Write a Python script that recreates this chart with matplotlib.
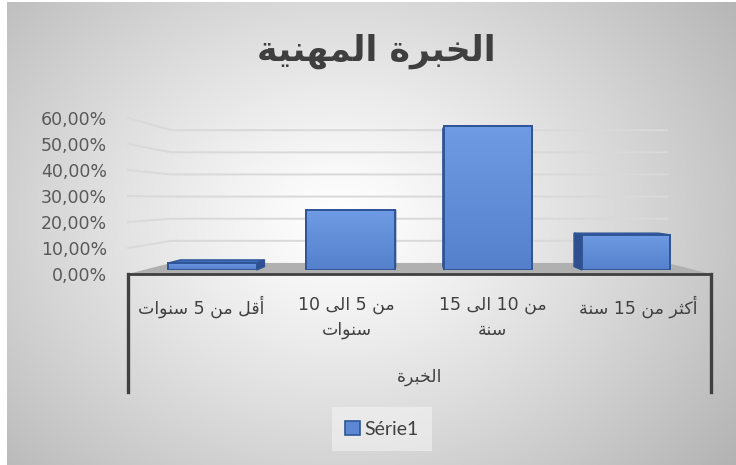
import re
import numpy as np
import matplotlib
matplotlib.use("Agg")
import matplotlib.pyplot as plt
from matplotlib.patches import Polygon, Rectangle
from matplotlib.colors import LinearSegmentedColormap

# ---------------- data ----------------
TITLE = "الخبرة المهنية"
AXIS_TITLE = "الخبرة"
SERIES_NAME = "Série1"
categories = ["أقل من 5 سنوات", "من 5 الى 10\nسنوات", "من 10 الى 15\nسنة", "أكثر من 15 سنة"]
values = [2.86, 24.29, 58.57, 14.29]
y_ticks = [0, 10, 20, 30, 40, 50, 60]
y_tick_labels = ["0,00%", "10,00%", "20,00%", "30,00%", "40,00%", "50,00%", "60,00%"]

# ---------------- arabic shaping (contextual forms + RTL order) ----------------
FORMS = {
    "\u0621": (0xFE80, None, None, None),
    "\u0622": (0xFE81, 0xFE82, None, None),
    "\u0623": (0xFE83, 0xFE84, None, None),
    "\u0624": (0xFE85, 0xFE86, None, None),
    "\u0625": (0xFE87, 0xFE88, None, None),
    "\u0626": (0xFE89, 0xFE8A, 0xFE8B, 0xFE8C),
    "\u0627": (0xFE8D, 0xFE8E, None, None),
    "\u0628": (0xFE8F, 0xFE90, 0xFE91, 0xFE92),
    "\u0629": (0xFE93, 0xFE94, None, None),
    "\u062A": (0xFE95, 0xFE96, 0xFE97, 0xFE98),
    "\u062B": (0xFE99, 0xFE9A, 0xFE9B, 0xFE9C),
    "\u062C": (0xFE9D, 0xFE9E, 0xFE9F, 0xFEA0),
    "\u062D": (0xFEA1, 0xFEA2, 0xFEA3, 0xFEA4),
    "\u062E": (0xFEA5, 0xFEA6, 0xFEA7, 0xFEA8),
    "\u062F": (0xFEA9, 0xFEAA, None, None),
    "\u0630": (0xFEAB, 0xFEAC, None, None),
    "\u0631": (0xFEAD, 0xFEAE, None, None),
    "\u0632": (0xFEAF, 0xFEB0, None, None),
    "\u0633": (0xFEB1, 0xFEB2, 0xFEB3, 0xFEB4),
    "\u0634": (0xFEB5, 0xFEB6, 0xFEB7, 0xFEB8),
    "\u0635": (0xFEB9, 0xFEBA, 0xFEBB, 0xFEBC),
    "\u0636": (0xFEBD, 0xFEBE, 0xFEBF, 0xFEC0),
    "\u0637": (0xFEC1, 0xFEC2, 0xFEC3, 0xFEC4),
    "\u0638": (0xFEC5, 0xFEC6, 0xFEC7, 0xFEC8),
    "\u0639": (0xFEC9, 0xFECA, 0xFECB, 0xFECC),
    "\u063A": (0xFECD, 0xFECE, 0xFECF, 0xFED0),
    "\u0641": (0xFED1, 0xFED2, 0xFED3, 0xFED4),
    "\u0642": (0xFED5, 0xFED6, 0xFED7, 0xFED8),
    "\u0643": (0xFED9, 0xFEDA, 0xFEDB, 0xFEDC),
    "\u0644": (0xFEDD, 0xFEDE, 0xFEDF, 0xFEE0),
    "\u0645": (0xFEE1, 0xFEE2, 0xFEE3, 0xFEE4),
    "\u0646": (0xFEE5, 0xFEE6, 0xFEE7, 0xFEE8),
    "\u0647": (0xFEE9, 0xFEEA, 0xFEEB, 0xFEEC),
    "\u0648": (0xFEED, 0xFEEE, None, None),
    "\u0649": (0xFEEF, 0xFEF0, None, None),
    "\u064A": (0xFEF1, 0xFEF2, 0xFEF3, 0xFEF4),
}
LAM_ALEF = {"\u0622": (0xFEF5, 0xFEF6), "\u0623": (0xFEF7, 0xFEF8),
            "\u0625": (0xFEF9, 0xFEFA), "\u0627": (0xFEFB, 0xFEFC)}


def _joins_next(c):
    f = FORMS.get(c)
    return f is not None and f[2] is not None


def shape(text):
    out, i, n = [], 0, len(text)
    while i < n:
        c = text[i]
        if c not in FORMS:
            out.append(c)
            i += 1
            continue
        prev = text[i - 1] if i > 0 else ""
        jp = _joins_next(prev)
        if c == "\u0644" and i + 1 < n and text[i + 1] in LAM_ALEF:
            iso, fin = LAM_ALEF[text[i + 1]]
            out.append(chr(fin if jp else iso))
            i += 2
            continue
        nxt = text[i + 1] if i + 1 < n else ""
        iso, fin, ini, med = FORMS[c]
        jn = ini is not None and nxt in FORMS
        if jp and jn:
            g = med
        elif jp:
            g = fin or iso
        elif jn:
            g = ini
        else:
            g = iso
        out.append(chr(g))
        i += 1
    return "".join(out)


def rtl(text):
    lines = []
    for line in text.split("\n"):
        s = shape(line)[::-1]
        s = re.sub(r"[0-9][0-9.,%]*", lambda m: m.group(0)[::-1], s)
        lines.append(s)
    return "\n".join(lines)


plt.rcParams["font.family"] = ["DejaVu Sans"]

# ---------------- figure & background ----------------
W, H = 736, 465
fig = plt.figure(figsize=(W / 100, H / 100), dpi=100, facecolor="white")
bg = fig.add_axes([0, 0, 1, 1], zorder=0)
yy, xx = np.mgrid[3:H, 7:W]
dist = np.hypot((xx - 340) / 460.0, (yy - 220) / 360.0)
shade = np.clip(1 - 0.27 * dist ** 1.2, 0, 1)
bg.imshow(np.dstack([shade] * 3), extent=(7, W, H, 3), interpolation="bilinear", aspect="auto")
bg.set_xlim(0, W)
bg.set_ylim(H, 0)
bg.axis("off")

# ---------------- main (bar front plane) axes ----------------
PX_L, PX_R = 143.6, 695.1
PX_0, PX_TOP = 270.0, 122.4
ax = fig.add_axes([PX_L / W, 1 - PX_0 / H, (PX_R - PX_L) / W, (PX_0 - PX_TOP) / H], zorder=1)
n = len(categories)
x_lo, x_hi = -0.5, n - 0.5
ax.set_xlim(x_lo, x_hi)
ax.set_ylim(0, y_ticks[-1])
ax.axis("off")

# perspective helpers (vanishing point in data coords)
VX = x_lo + (417 - PX_L) / (PX_R - PX_L) * n
VY = (PX_0 - 200) / (PX_0 - PX_TOP) * y_ticks[-1]
RF, RB, RBB = 1 / 0.946, 0.851 / 0.946, 0.9 / 0.946


def P(x, v, r):
    return (VX + r * (x - VX), VY + r * (v - VY))


# floor
ax.add_patch(Polygon([P(x_lo, 0, RF), P(x_hi, 0, RF), P(x_hi, 0, RB), P(x_lo, 0, RB)],
                     closed=True, fc="#b0b0b0", ec="none", zorder=1, clip_on=False))

# gridlines (side wall + back wall)
for v in y_ticks[1:]:
    pts = [P(x_lo, v, RF), P(x_lo, v, RB), P(x_hi, v, RB)]
    ax.plot([p[0] for p in pts], [p[1] for p in pts], color="#d9d9d9", lw=1.4,
            zorder=0.5, clip_on=False, solid_joinstyle="round")

# bars
xs = np.arange(n)
BW = 0.64
bars = ax.bar(xs, values, width=BW, color="#5b87d3", edgecolor="#2f5597",
              linewidth=1.2, zorder=5, label=SERIES_NAME)

for x, v in zip(xs, values):
    l, r = x - BW / 2, x + BW / 2
    top = [P(l, v, 1), P(r, v, 1), P(r, v, RBB), P(l, v, RBB)]
    ax.add_patch(Polygon(top, fc="#3f6cbd", ec="#2f5597", lw=1.0, zorder=4, clip_on=False))
    sx = r if x < VX else l
    side = [P(sx, 0, 1), P(sx, v, 1), P(sx, v, RBB), P(sx, 0, RBB)]
    ax.add_patch(Polygon(side, fc="#2f4f8f", ec="#2f5597", lw=1.0, zorder=4, clip_on=False))

cmap = LinearSegmentedColormap.from_list("barg", ["#5580cc", "#6f9be4"])
for rect in bars:
    x0, w, h = rect.get_x(), rect.get_width(), rect.get_height()
    im = ax.imshow(np.linspace(0, 1, 64).reshape(-1, 1), cmap=cmap,
                   extent=(x0, x0 + w, 0, h), origin="lower", aspect="auto", zorder=5.5)
    im.set_clip_path(rect)
    ax.add_patch(Rectangle((x0, 0), w, h, fill=False, ec="#2f5597", lw=1.4, zorder=6))
ax.set_xlim(x_lo, x_hi)
ax.set_ylim(0, y_ticks[-1])

# front axis line and frame lines
fl, fr = P(x_lo, 0, RF), P(x_hi, 0, RF)
ax.plot([fl[0], fr[0]], [fl[1], fr[1]], color="#404040", lw=2.0, zorder=3, clip_on=False)
inv = ax.transData.inverted()
y_bot = inv.transform((0, H - 392))[1]
for xe in (fl[0], fr[0]):
    ax.plot([xe, xe], [fl[1], y_bot], color="#404040", lw=2.4, zorder=3, clip_on=False)

# y tick labels
for v, lab in zip(y_ticks, y_tick_labels):
    ax.annotate(lab, xy=P(x_lo, v, RF), xytext=(-21, -2.5), textcoords="offset pixels",
                ha="right", va="center", fontsize=12.5, color="#595959", annotation_clip=False)

# category labels
for x, lab in zip(xs, categories):
    ax.annotate(rtl(lab), xy=P(x, 0, RF), xytext=(0, -22), textcoords="offset pixels",
                ha="center", va="top", fontsize=12.5, color="#404040", linespacing=1.5,
                annotation_clip=False)

# axis title
ax.annotate(rtl(AXIS_TITLE), xy=P((x_lo + x_hi) / 2, 0, RF), xytext=(0, -(377 - 274)),
            textcoords="offset pixels", ha="center", va="center", fontsize=12.5,
            color="#404040", annotation_clip=False)

# chart title
fig.text(376 / W, 1 - 51 / H, rtl(TITLE), ha="center", va="center", fontsize=25,
         fontweight="bold", color="#3f3f3f")

# legend
ax.legend([bars], [SERIES_NAME], loc="center", bbox_to_anchor=(382 / W, 1 - 429 / H),
          bbox_transform=fig.transFigure, prop={"family": "Lato", "size": 14},
          labelcolor="#404040", handlelength=0.75, handleheight=0.75, handletextpad=0.25,
          frameon=True, facecolor="#f3f3f3", edgecolor="none", framealpha=0.6,
          fancybox=False, borderpad=0.7)

fig.savefig("out.png", dpi=100, facecolor="white")
